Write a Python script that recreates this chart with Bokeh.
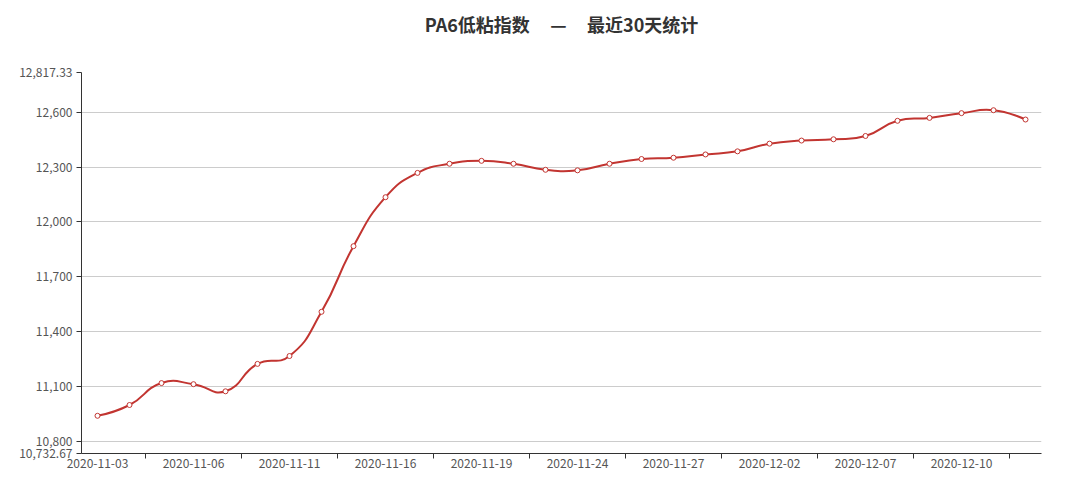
import numpy as np
from bokeh.plotting import figure
from bokeh.models import Range1d, LinearAxis, FixedTicker, CustomJSTickFormatter, Grid, Title
from bokeh.embed import file_html
from bokeh.resources import INLINE

# ---- data ----
dates = ["2020-11-03", "2020-11-04", "2020-11-05", "2020-11-06", "2020-11-09",
         "2020-11-10", "2020-11-11", "2020-11-12", "2020-11-13", "2020-11-16",
         "2020-11-17", "2020-11-18", "2020-11-19", "2020-11-20", "2020-11-23",
         "2020-11-24", "2020-11-25", "2020-11-26", "2020-11-27", "2020-11-30",
         "2020-12-01", "2020-12-02", "2020-12-03", "2020-12-04", "2020-12-07",
         "2020-12-08", "2020-12-09", "2020-12-10", "2020-12-11", "2020-12-14"]
values = [10939, 10998, 11118, 11112, 11073, 11223, 11266, 11508, 11867, 12135,
          12268, 12318, 12334, 12318, 12285, 12282, 12318, 12344, 12351, 12369,
          12386, 12428, 12445, 12452, 12470, 12553, 12569, 12595, 12611, 12560]
y_min = 10732.67
y_max = 12817.33
y_ticks = [10800, 11100, 11400, 11700, 12000, 12300, 12600]
label_every = 3
title_text = "PA6低粘指数\u00a0\u00a0\u00a0\u00a0\u00a0—\u00a0\u00a0\u00a0\u00a0\u00a0最近30天统计"

# ---- styles ----
RED = "#c23531"
FONT = "Noto Sans CJK SC"
FRAME_W, FRAME_H = 960, 381

n = len(values)
xs = np.arange(n) + 0.5
ys = np.array(values, dtype=float)

# ECharts-like smoothing (smooth = 0.5) computed in screen-proportional space
sx = FRAME_W / n
sy = FRAME_H / (y_max - y_min)
P = np.column_stack([xs * sx, ys * sy])
cp_in = P.copy()
cp_out = P.copy()
smooth = 0.5
for i in range(1, n - 1):
    prev, nxt = P[i - 1], P[i + 1]
    v = (nxt - prev) * smooth
    d0 = np.linalg.norm(P[i] - prev)
    d1 = np.linalg.norm(nxt - P[i])
    s = d0 + d1
    cp_in[i] = P[i] - v * d0 / s
    cp_out[i] = P[i] + v * d1 / s

seg = dict(
    x0=xs[:-1], y0=ys[:-1], x1=xs[1:], y1=ys[1:],
    cx0=cp_out[:-1, 0] / sx, cy0=cp_out[:-1, 1] / sy,
    cx1=cp_in[1:, 0] / sx, cy1=cp_in[1:, 1] / sy,
)

p = figure(frame_width=FRAME_W, frame_height=FRAME_H,
           x_range=Range1d(0, n), y_range=Range1d(y_min, y_max),
           x_axis_type=None, y_axis_type=None,
           output_backend="svg", toolbar_location=None,
           min_border_left=81, min_border_right=28,
           min_border_top=72, min_border_bottom=40)
p.outline_line_color = None
p.background_fill_color = "white"
p.border_fill_color = "white"

# spacer between frame and title, then the title itself
p.add_layout(Title(text="\u00a0", text_font_size="1px", standoff=33), "above")
p.add_layout(Title(text=title_text, align="center", text_font=FONT,
                   text_font_size="18px", text_font_style="bold",
                   text_color="#333333", standoff=0), "above")

# y axis
yt = FixedTicker(ticks=[y_min] + y_ticks + [y_max])
yfmt = CustomJSTickFormatter(code="""
const v = Math.round(tick * 100) / 100;
const parts = v.toString().split('.');
parts[0] = parts[0].replace(/\\B(?=(\\d{3})+(?!\\d))/g, ',');
return parts.join('.');
""")
yaxis = LinearAxis(ticker=yt, formatter=yfmt,
                   axis_line_color="#333333", axis_line_width=1,
                   major_tick_line_color="#333333", major_tick_out=5, major_tick_in=0,
                   minor_tick_line_color=None,
                   major_label_text_font=FONT, major_label_text_font_size="12px",
                   major_label_text_color="#555555", major_label_standoff=4)
p.add_layout(yaxis, "left")
p.add_layout(Grid(dimension=1, ticker=yt, grid_line_color="#cccccc", grid_line_width=1))

# x axis: tick marks at band boundaries
tick_bounds = [k + label_every - 1 for k in range(0, n, label_every)]
xaxis_ticks = LinearAxis(ticker=FixedTicker(ticks=tick_bounds),
                         formatter=CustomJSTickFormatter(code="return '';"),
                         axis_line_color="#333333", axis_line_width=1,
                         major_tick_line_color="#333333", major_tick_out=5, major_tick_in=0,
                         minor_tick_line_color=None,
                         major_label_text_font_size="0px", major_label_standoff=0)
p.add_layout(xaxis_ticks, "below")

# x axis: labels at band centres
label_pos = [i + 0.5 for i in range(0, n, label_every)]
xaxis_labels = LinearAxis(ticker=FixedTicker(ticks=label_pos),
                          formatter=CustomJSTickFormatter(args=dict(labels=dates),
                                                          code="return labels[Math.round(tick - 0.5)] || '';"),
                          axis_line_color=None, major_tick_line_color=None,
                          major_tick_out=0, major_tick_in=0, minor_tick_line_color=None,
                          major_label_text_font=FONT, major_label_text_font_size="12px",
                          major_label_text_color="#555555", major_label_standoff=0)
p.add_layout(xaxis_labels, "below")

p.bezier(**seg, line_color=RED, line_width=2)
p.scatter(xs, ys, marker="circle", size=5, fill_color="white",
          line_color=RED, line_width=1)

open("out.html", "w").write(file_html(p, INLINE))
